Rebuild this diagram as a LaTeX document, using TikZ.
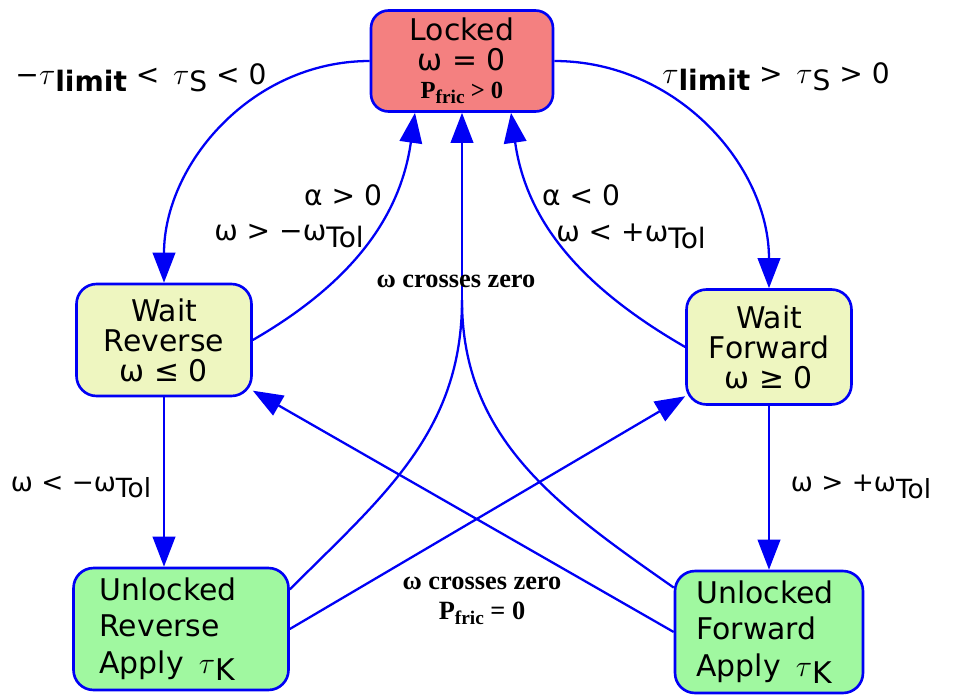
\documentclass[tikz,border=0pt]{standalone}
\usepackage{fontspec}
\setmainfont{DejaVu Sans}
\newfontfamily\timesbf{Liberation Serif}
\usetikzlibrary{arrows.meta, calc}
\definecolor{edgeblue}{RGB}{0, 0, 245}
\definecolor{lockred}{RGB}{244, 128, 128}
\definecolor{waityellow}{RGB}{238, 246, 192}
\definecolor{freegreen}{RGB}{160, 248, 160}
\newcommand{\dn}[1]{\raisebox{-0.45ex}{#1}}
\newcommand{\pfric}{P\raisebox{-0.45ex}{\fontsize{11}{11}\selectfont fric}}

\begin{document}
\begin{tikzpicture}[
    x=0.02cm, y=-0.02cm,
    every node/.style={font=\fontsize{17}{17}\selectfont},
    lockbox/.style={rectangle, draw=edgeblue, fill=lockred, rounded corners=0.35cm,
                    line width=1.5pt, minimum width=3.64cm, minimum height=2.02cm,
                    align=center, inner sep=0pt, font=\fontsize{17}{16}\selectfont},
    waitbox/.style={rectangle, draw=edgeblue, fill=waityellow, rounded corners=0.4cm,
                    line width=1.5pt, align=center, inner sep=0pt},
    freebox/.style={rectangle, draw=edgeblue, fill=freegreen, rounded corners=0.4cm,
                    line width=1.5pt, minimum height=2.44cm, align=left, inner ysep=0pt,
                    font=\fontsize{17}{20.7}\selectfont},
    condlabel/.style={inner sep=0pt, font=\fontsize{16}{16}\selectfont},
    smalllabel/.style={inner sep=0pt, font=\fontsize{15}{15}\selectfont},
    eventlabel/.style={inner sep=0pt, align=center, font=\timesbf\bfseries\fontsize{15}{17}\selectfont},
    arrow/.style={-{Triangle[length=0.6cm, width=0.45cm]}, line width=1.3pt, draw=edgeblue},
    link/.style={line width=1.3pt, draw=edgeblue}
]
\useasboundingbox (0,0) rectangle (957,694);

% States
\node[lockbox] (locked) at (462,61)
    {Locked\\[1pt]ω = 0\\[0pt]{\timesbf\bfseries\fontsize{14}{14}\selectfont\pfric{} > 0}};
\node[waitbox, minimum width=3.5cm, minimum height=2.24cm] (waitrev) at (164,340)
    {Wait\\Reverse\\ω ≤ 0};
\node[waitbox, minimum width=3.3cm, minimum height=2.3cm] (waitfwd) at (769,347)
    {Wait\\Forward\\ω ≥ 0};
\node[freebox, text width=3.26cm, inner xsep=0.52cm] (unlockrev) at (181,629)
    {Unlocked\\Reverse\\Apply \,$\tau$\dn{K}};
\node[freebox, text width=2.9cm, inner xsep=0.43cm] (unlockfwd) at (769,632)
    {Unlocked\\Forward\\Apply \,$\tau$\dn{K}};

% Helper points
\coordinate (lockL) at ($(locked.south)+(-47,0)$);
\coordinate (lockR) at ($(locked.south)+(49,0)$);
\coordinate (merge) at (462,300);

% Transitions
\draw[arrow] (locked.west) to[out=180, in=90] (waitrev.north);
\draw[arrow] (locked.east) to[out=0, in=90] (waitfwd.north);
\draw[arrow] (waitrev.east) to[out=30, in=-98] (lockL);
\draw[arrow] (waitfwd.west) to[out=150, in=-82] (lockR);
\draw[link] (unlockrev.20) to[out=45, in=-90] (merge);
\draw[link] (unlockfwd.155) to[out=145, in=-90] (merge);
\draw[arrow] (merge) -- (locked.south);
\draw[arrow] (unlockrev.east) -- (waitfwd);
\draw[arrow] (unlockfwd.west) -- (waitrev);
\draw[arrow] (waitrev.south) -- (waitrev.south |- unlockrev.north);
\draw[arrow] (waitfwd.south) -- (unlockfwd.north);

% Conditions
\node[condlabel] (tneg) at (141,78) {−$\tau$\dn{\bfseries limit} < \,$\tau$\dn{S} < 0};
\node[condlabel] (tpos) at (776,77) {$\tau$\dn{\bfseries limit} > \,$\tau$\dn{S} > 0};
\node[condlabel] (alphapos) at (343,195) {α > 0};
\node[condlabel] (tolneg) at (289,236) {ω > −ω\dn{Tol}};
\node[condlabel] (alphaneg) at (581,195) {α < 0};
\node[condlabel] (tolpos) at (631,236) {ω < +ω\dn{Tol}};
\node[eventlabel] (crossup) at (456,281) {ω crosses zero};
\node[smalllabel] (revgo) at (81,487) {ω < −ω\dn{Tol}};
\node[smalllabel] (fwdgo) at (861,487) {ω > +ω\dn{Tol}};
\node[eventlabel] (crossdown) at (482,601) {ω crosses zero\\\pfric{} = 0};

\end{tikzpicture}
\end{document}
